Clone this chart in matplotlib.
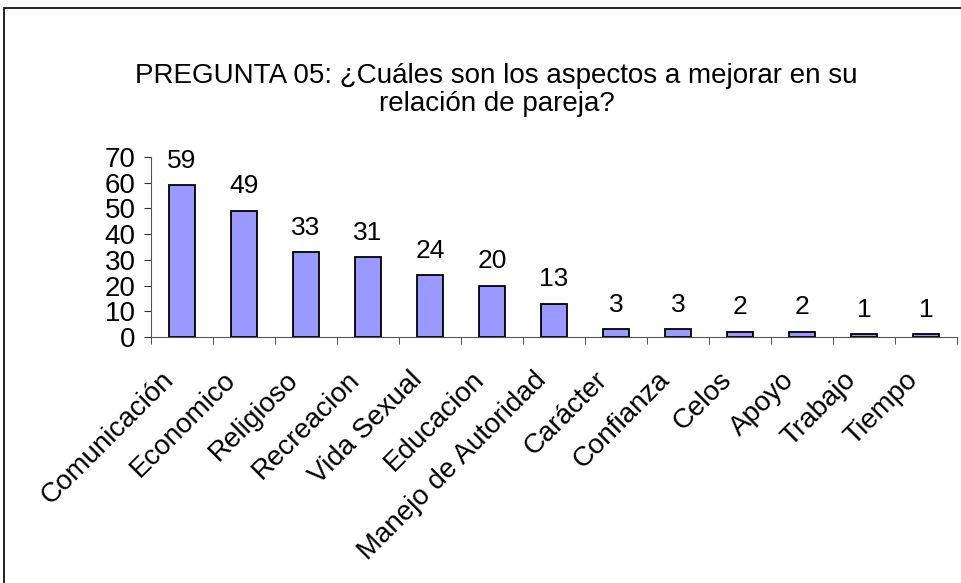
import matplotlib
matplotlib.use("Agg")
import matplotlib.pyplot as plt
from matplotlib.patches import Rectangle
import matplotlib.transforms as mtransforms
import numpy as np

plt.rcParams['font.family'] = ['Liberation Sans', 'DejaVu Sans']

categories = ["Comunicación", "Economico", "Religioso", "Recreacion", "Vida Sexual",
              "Educacion", "Manejo de Autoridad", "Carácter", "Confianza", "Celos",
              "Apoyo", "Trabajo", "Tiempo"]
values = [59, 49, 33, 31, 24, 20, 13, 3, 3, 2, 2, 1, 1]
title = "PREGUNTA 05: ¿Cuáles son los aspectos a mejorar en su\nrelación de pareja?"

fig = plt.figure(figsize=(9.62, 5.83), dpi=100)
ax = fig.add_axes([0.157, 0.422, 0.838, 0.309])

x = np.arange(len(categories))
bars = ax.bar(x, values, width=0.42, color='#9999FF', edgecolor='black', linewidth=1.3)
for xi, v in zip(x, values):
    ax.annotate(str(v), (xi, v), xytext=(0, 9), textcoords='offset points',
                ha='center', va='bottom', fontsize=19)

ax.set_xlim(-0.5, len(categories) - 0.5)
ax.set_ylim(0, 70)
ax.set_yticks(range(0, 71, 10))
ax.tick_params(axis='y', labelsize=20, length=5, direction='out', pad=6, color='#333333')
ax.set_xticks(x)
ax.set_xticklabels(categories, rotation=45, ha='right', va='center',
                   rotation_mode='anchor', fontsize=20)
ax.tick_params(axis='x', which='major', length=0, pad=28)
offset = mtransforms.ScaledTranslation(-12 / 100, 0, fig.dpi_scale_trans)
for lbl in ax.get_xticklabels():
    lbl.set_transform(lbl.get_transform() + offset)
ax.set_xticks(np.arange(-0.5, len(categories), 1), minor=True)
ax.tick_params(axis='x', which='minor', length=5, direction='out', color='#333333')
for s in ['top', 'right']:
    ax.spines[s].set_visible(False)
for s in ['left', 'bottom']:
    ax.spines[s].set_color('#555555')

fig.text(0.516, 0.846, title, ha='center', va='center', fontsize=20, linespacing=1.08)

fig.patches.append(Rectangle((0.004, -0.01), 1.2, 0.997, transform=fig.transFigure,
                             fill=False, edgecolor='black', linewidth=1.2))

fig.savefig("out.png", dpi=100)
